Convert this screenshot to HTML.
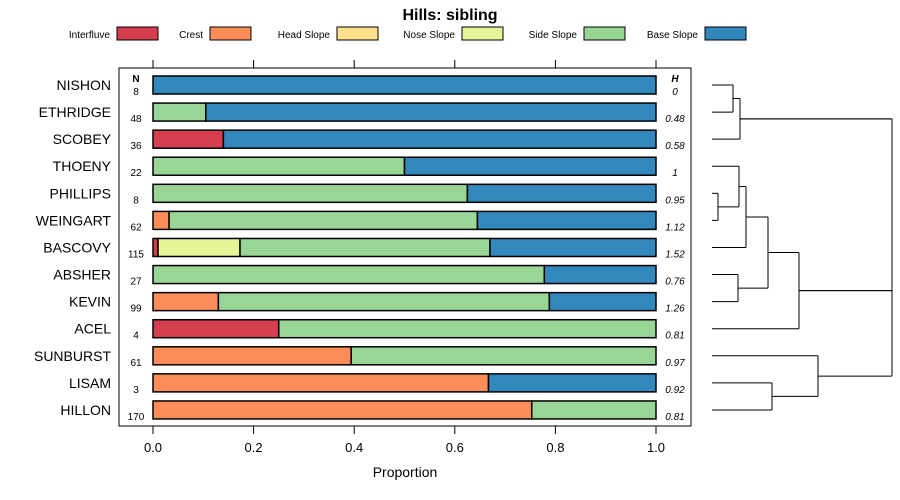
<!DOCTYPE html>
<html><head><meta charset="utf-8"><style>
body{margin:0;background:#fff;}
svg{display:block;font-family:"Liberation Sans",sans-serif;}
</style></head><body>
<svg id="chart" width="900" height="500" xmlns="http://www.w3.org/2000/svg">
<text x="450" y="20" text-anchor="middle" font-size="16" font-weight="bold">Hills: sibling</text>
<g id="legend"></g>
<rect x="119" y="68" width="572" height="358" fill="none" stroke="#000" stroke-width="1"/>
<g id="axes"></g>
<g id="bars"></g>
<g id="dendro"></g>
<text x="405" y="477" text-anchor="middle" font-size="14">Proportion</text>
</svg>
<script>
const classes = ["Interfluve","Crest","Head Slope","Nose Slope","Side Slope","Base Slope"];
const colors = ["#D53E4F","#FC8D59","#FEE08B","#E6F598","#99D594","#3288BD"];
const hills = ["NISHON","ETHRIDGE","SCOBEY","THOENY","PHILLIPS","WEINGART","BASCOVY","ABSHER","KEVIN","ACEL","SUNBURST","LISAM","HILLON"];
const nVals = [8,48,36,22,8,62,115,27,99,4,61,3,170];
const hVals = ["0","0.48","0.58","1","0.95","1.12","1.52","0.76","1.26","0.81","0.97","0.92","0.81"];
const interfluve = [0,0,0.14,0,0,0,0.01,0,0,0.25,0,0,0];
const crest = [0,0,0,0,0,0.032,0,0,0.13,0,0.394,0.667,0.753];
const headSlope = [0,0,0,0,0,0,0,0,0,0,0,0,0];
const noseSlope = [0,0,0,0,0,0,0.163,0,0,0,0,0,0];
const sideSlope = [0,0.105,0,0.5,0.625,0.613,0.497,0.778,0.658,0.75,0.606,0,0.247];
const baseSlope = [1,0.895,0.86,0.5,0.375,0.355,0.33,0.222,0.212,0,0,0.333,0];
const xTicks = [0,0.2,0.4,0.6,0.8,1.0];
const xTickLabels = ["0.0","0.2","0.4","0.6","0.8","1.0"];
// dendrogram merges: [childA, childB, height]; negative = leaf index
const merges = [[-0,-1,733],[0,-2,740],[-4,-5,718],[-3,2,739],[3,-6,746],[-7,-8,738],[4,5,768],[6,-9,799],[-11,-12,772],[-10,8,818],[1,7,892],[10,9,892]];

const NS="http://www.w3.org/2000/svg";
function mk(tag,attrs,parent,text){const e=document.createElementNS(NS,tag);for(const k in attrs)e.setAttribute(k,attrs[k]);if(text!==undefined)e.textContent=text;parent.appendChild(e);return e;}
const X = v => 153 + v*503;
const Y = i => 85 + i*27.08;
const series=[interfluve,crest,headSlope,noseSlope,sideSlope,baseSlope];

// legend
const lg=document.getElementById('legend');
const boxX=[117,210,337,462,584,705];
classes.forEach((c,i)=>{
  const t=mk('text',{x:boxX[i]-7,y:38,'text-anchor':'end','font-size':10,fill:'#000'},lg,c);
  
  
  const r=mk('rect',{x:boxX[i],y:27,width:41,height:13,fill:colors[i],stroke:'#000','stroke-width':1},lg);
  
  
});

// axes
const ax=document.getElementById('axes');
xTicks.forEach((v,i)=>{
  const t1=mk('line',{x1:X(v),x2:X(v),y1:60,y2:68,stroke:'#000'},ax);
  
  
  const t2=mk('line',{x1:X(v),x2:X(v),y1:426,y2:434,stroke:'#000'},ax);
  
  
  const l=mk('text',{x:X(v),y:452,'text-anchor':'middle','font-size':13},ax,xTickLabels[i]);
  
  
});
const nh=mk('text',{x:136,y:82,'text-anchor':'middle','font-size':10,'font-weight':'bold'},ax,'N');


const hh=mk('text',{x:675,y:82,'text-anchor':'middle','font-size':10,'font-weight':'bold','font-style':'italic'},ax,'H');



// bars
const bg=document.getElementById('bars');
hills.forEach((h,i)=>{
  const y=Y(i);
  const nm=mk('text',{x:111,y:y+5,'text-anchor':'end','font-size':14},bg,h);
  
  
  const n=mk('text',{x:136,y:y+10,'text-anchor':'middle','font-size':10},bg,String(nVals[i]));
  
  
  const hv=mk('text',{x:675,y:y+10,'text-anchor':'middle','font-size':10,'font-style':'italic'},bg,hVals[i]);
  
  
  let cum=0;
  series.forEach((s,k)=>{
    const v=s[i];
    if(v>0){
      const r=mk('rect',{x:X(cum),y:y-9,width:X(cum+v)-X(cum),height:18,fill:colors[k],stroke:'#000','stroke-width':1.5},bg);
      
      
    }
    cum+=v;
  });
});

// dendrogram
const dg=document.getElementById('dendro');
const leafX=712;
const nodes=[];
function pos(c){ if(c<0||Object.is(c,-0)) return {x:leafX,y:Y(-c)}; return nodes[c]; }
merges.forEach((m,idx)=>{
  if(idx===11) return;
  const a=pos(m[0]), b=pos(m[1]), hx=m[2];
  [a,b].forEach(p=>{
    const l=mk('line',{x1:p.x,x2:hx,y1:p.y,y2:p.y,stroke:'#000','stroke-width':1},dg);
    
    
  });
  const v=mk('line',{x1:hx,x2:hx,y1:a.y,y2:b.y,stroke:'#000','stroke-width':1},dg);
  
  
  nodes[idx]={x:hx,y:(a.y+b.y)/2};
});
(function(){
  const hx=892, parts=[nodes[1],nodes[7],nodes[9]];
  parts.forEach(p=>{
    const l=mk('line',{x1:p.x,x2:hx,y1:p.y,y2:p.y,stroke:'#000','stroke-width':1},dg);
    
    
  });
  const v=mk('line',{x1:hx,x2:hx,y1:parts[0].y,y2:parts[2].y,stroke:'#000','stroke-width':1},dg);
  
  
})();
</script>
</body></html>
